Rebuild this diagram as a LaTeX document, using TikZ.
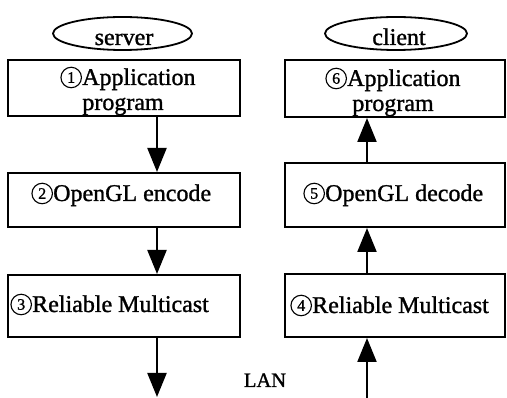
\documentclass[tikz,border=0pt]{standalone}
\usepackage{fontspec}
\setmainfont{Liberation Serif}[FakeBold=1.2]
\usetikzlibrary{arrows.meta,shapes.geometric}

\begin{document}
\begin{tikzpicture}[x=1pt,y=-1pt,
  blk/.style={draw,rectangle,line width=2pt,inner sep=0pt},
  side/.style={draw,ellipse,line width=1.8pt,inner sep=0pt,minimum height=33pt},
  txt/.style={anchor=base,inner sep=0pt,font=\fontsize{24}{25}\selectfont},
  lead/.style={txt,anchor=base west},
  num/.style={draw,circle,line width=1.1pt,inner sep=0pt,minimum size=20.5pt,
    font=\fontsize{16}{16}\selectfont},
  flow/.style={line width=2.2pt,-{Triangle[length=24pt,width=19pt]}}]

\useasboundingbox (0,0) rectangle (507,398);

% end labels
\node[side,minimum width=139pt] (srv) at (122.5,33.5) {};
\node[side,minimum width=142pt] (cli) at (396,33.5) {};
\node[txt] (srvT) at (124,45) {server};
\node[txt] (cliT) at (399,45) {client};

% server stack
\node[blk,minimum width=232pt,minimum height=56pt] (b1) at (124,88) {};
\node[blk,minimum width=232pt,minimum height=54pt] (b2) at (124,200) {};
\node[blk,minimum width=232pt,minimum height=62pt] (b3) at (124,306) {};

% client stack
\node[blk,minimum width=220pt,minimum height=57pt] (b6) at (395,88.5) {};
\node[blk,minimum width=220pt,minimum height=64pt] (b5) at (395,195) {};
\node[blk,minimum width=220pt,minimum height=63pt] (b4) at (395,305.5) {};

% box texts (left edge, baseline)
\node[lead] (t1a) at (82,85) {Application};
\node[txt]  (t1b) at (123,110) {program};
\node[lead] (t2) at (53,201) {OpenGL encode};
\node[lead] (t3) at (32,312) {Reliable Multicast};
\node[lead] (t4) at (312,313) {Reliable Multicast};
\node[lead] (t5) at (325,201) {OpenGL decode};
\node[lead] (t6a) at (347,86) {Application};
\node[txt]  (t6b) at (393,111) {program};

% circled step numbers in front of the texts
\node[num,anchor=east] (n1) at ([yshift=7.5pt]t1a.base west) {1};
\node[num,anchor=east] (n2) at ([yshift=7.5pt]t2.base west) {2};
\node[num,anchor=east] (n3) at ([yshift=7.5pt]t3.base west) {3};
\node[num,anchor=east] (n4) at ([yshift=7.5pt]t4.base west) {4};
\node[num,anchor=east] (n5) at ([yshift=7.5pt]t5.base west) {5};
\node[num,anchor=east] (n6) at ([yshift=7.5pt]t6a.base west) {6};

\node[txt,font=\fontsize{20.5}{22}\selectfont] (lan) at (265,387) {LAN};

% connector columns and free ends
\coordinate (la) at (157,0);
\coordinate (ra) at (367,0);
\coordinate (lanL) at (157,397);
\coordinate (lanR) at (367,398);

\draw[flow] (b1.south -| la) -- (b2.north -| la);
\draw[flow] (b2.south -| la) -- (b3.north -| la);
\draw[flow] (b3.south -| la) -- (lanL);

\draw[flow] (lanR) -- (b4.south -| ra);
\draw[flow] (b4.north -| ra) -- (b5.south -| ra);
\draw[flow] (b5.north -| ra) -- (b6.south -| ra);
\end{tikzpicture}
\end{document}
